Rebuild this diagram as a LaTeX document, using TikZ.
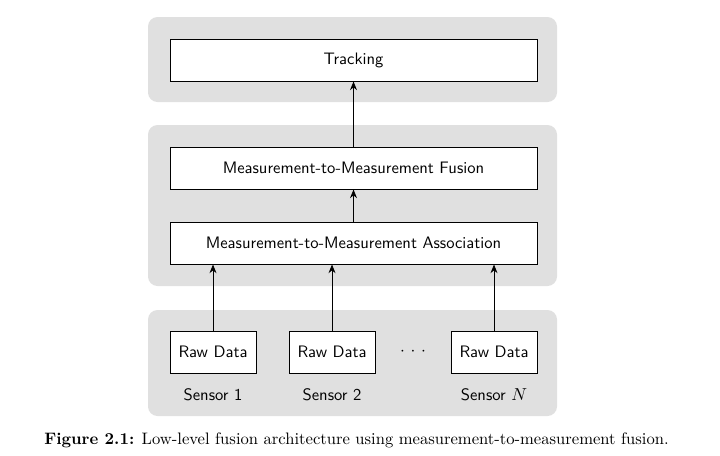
\documentclass[tikz,border=0pt]{standalone}
\usetikzlibrary{arrows.meta}
\definecolor{panelgray}{RGB}{224,224,224}
\newcommand{\fsz}{\fontsize{10.5}{12.6}\selectfont}
\tikzset{
  panel/.style={fill=panelgray, rounded corners=6pt},
  box/.style={draw, line width=0.6pt, fill=white, font=\sffamily\fsz, inner sep=0pt},
  wide/.style={box, minimum width=232.3pt, minimum height=26.6pt},
  small/.style={box, minimum width=54.4pt, minimum height=26.6pt},
  lbl/.style={font=\sffamily\fsz, inner sep=0pt},
  conn/.style={-{Stealth[length=5.5pt,width=4.4pt,inset=1.8pt]}, line width=0.55pt}
}
\begin{document}
\begin{tikzpicture}[x=0.633pt,y=-0.633pt]
\useasboundingbox (0,0) rectangle (720,455);
% panels
\fill[panel] (148,17) rectangle (557,102);
\fill[panel] (148,125) rectangle (557,286);
\fill[panel] (148,310) rectangle (557,416);
% boxes
\node[wide] (track) at (353.5,60) {Tracking};
\node[wide] (fusion) at (353.5,168) {Measurement-to-Measurement Fusion};
\node[wide] (assoc) at (353.5,243) {Measurement-to-Measurement Association};
\node[small] (raw1) at (213,352) {Raw Data};
\node[small] (raw2) at (332,352) {Raw Data};
\node[small] (rawN) at (494,352) {Raw Data};
\node[lbl] (dots) at (413,352) {$\cdot$\hspace{3.6pt}$\cdot$\hspace{3.6pt}$\cdot$};
\node[lbl] (s1) at (213,395) {Sensor 1};
\node[lbl] (s2) at (332,395) {Sensor 2};
\node[lbl] (sN) at (494,395) {Sensor $N$};
% connectors
\draw[conn] (raw1.north) -- (raw1.north |- assoc.south);
\draw[conn] (raw2.north) -- (raw2.north |- assoc.south);
\draw[conn] (rawN.north) -- (rawN.north |- assoc.south);
\draw[conn] (assoc.north) -- (fusion.south);
\draw[conn] (fusion.north) -- (track.south);
% caption
\node[inner sep=0pt, font=\fsz] (cap) at (356.5,440) {\textbf{Figure 2.1:} Low-level fusion architecture using measurement-to-measurement fusion.};
\end{tikzpicture}
\end{document}
